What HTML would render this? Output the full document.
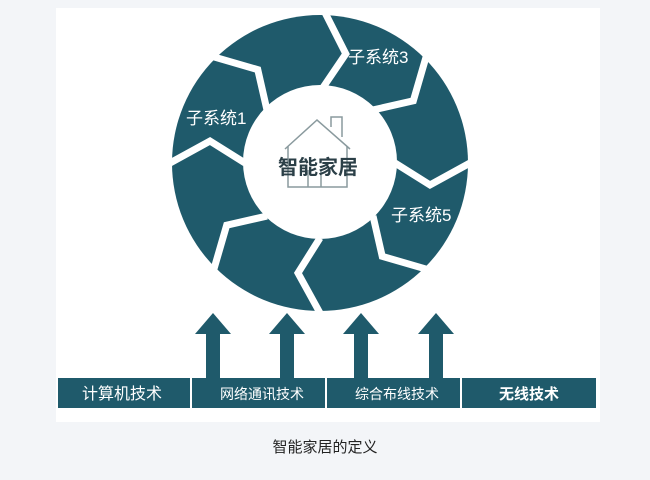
<!DOCTYPE html><html><head><meta charset="utf-8"><style>
body{margin:0;width:650px;height:480px;background:#f3f5f8;overflow:hidden;font-family:"Liberation Sans","Noto Sans CJK SC",sans-serif}
</style></head><body>
<svg width="650" height="480" style="position:absolute;left:0;top:0">
<rect x="56" y="8" width="544" height="414" fill="#fff"/>
<circle cx="320" cy="163" r="148" fill="#1f5a6b"/>
<g stroke="#fff" stroke-width="7" fill="none" stroke-linejoin="miter">
<polyline points="395,163 430,185 470,163" transform="rotate(-88 320 163)"/>
<polyline points="395,163 430,185 470,163" transform="rotate(-45 320 163)"/>
<polyline points="395,163 430,185 470,163" transform="rotate(0 320 163)"/>
<polyline points="395,163 430,185 470,163" transform="rotate(45 320 163)"/>
<polyline points="395,163 430,185 470,163" transform="rotate(90 320 163)"/>
<polyline points="395,163 430,185 470,163" transform="rotate(135 320 163)"/>
<polyline points="395,163 430,185 470,163" transform="rotate(180 320 163)"/>
<polyline points="395,163 430,185 470,163" transform="rotate(225 320 163)"/>
</g>
<circle cx="320" cy="162" r="77" fill="#fff"/>
<g stroke="#8a9a9e" stroke-width="1.5" fill="none">
<polyline points="285,149 317,120 350,149"/>
<polyline points="331,127 331,117 342,117 342,137"/>
<polyline points="288,146 288,187 347,187 347,146"/>
<line x1="308" y1="170" x2="308" y2="187"/><line x1="321" y1="170" x2="321" y2="187"/>
</g>
<text x="318" y="174" font-size="20" fill="#2b3f47" text-anchor="middle" font-weight="bold" font-family="Liberation Sans,Noto Sans CJK SC,sans-serif">智能家居</text>
<g fill="#fff" font-size="17" font-family="Liberation Sans,Noto Sans CJK SC,sans-serif">
<text x="186" y="124">子系统1</text>
<text x="348" y="63">子系统3</text>
<text x="391" y="221">子系统5</text>
</g>
<g fill="#1f5a6b">
<polygon points="206,378 206,334 195,334 213,313 231,334 220,334 220,378"/>
<polygon points="280,378 280,334 269,334 287,313 305,334 294,334 294,378"/>
<polygon points="354,378 354,334 343,334 361,313 379,334 368,334 368,378"/>
<polygon points="429,378 429,334 418,334 436,313 454,334 443,334 443,378"/>
<rect x="58" y="378" width="132" height="30"/>
<rect x="192" y="378" width="133" height="30"/>
<rect x="327" y="378" width="133" height="30"/>
<rect x="462" y="378" width="134" height="30"/>
</g>
<g fill="#fff" font-size="15" text-anchor="middle" font-family="Liberation Sans,Noto Sans CJK SC,sans-serif">
<text x="122" y="399" font-size="16">计算机技术</text>
<text x="262" y="399" font-size="14">网络通讯技术</text>
<text x="397" y="399" font-size="14">综合布线技术</text>
<text x="529" y="399" font-weight="bold">无线技术</text>
</g>
<text x="325" y="452" font-size="15" fill="#222" text-anchor="middle" font-family="Liberation Sans,Noto Sans CJK SC,sans-serif">智能家居的定义</text>
</svg>
</body></html>
